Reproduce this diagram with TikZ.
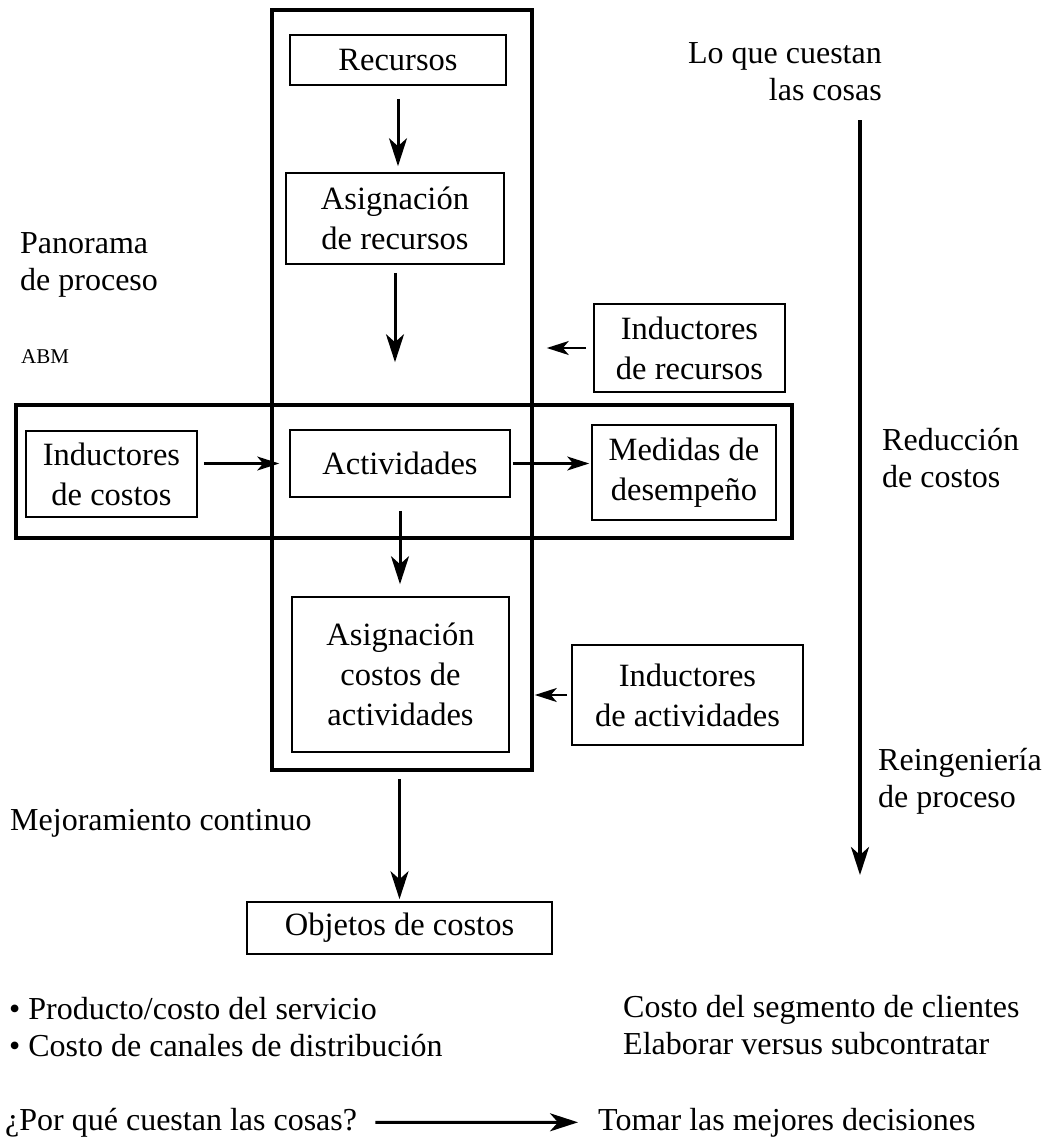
\documentclass[tikz,border=0pt]{standalone}
\usepackage{fontspec}
\setmainfont{Liberation Serif}
\usetikzlibrary{positioning,arrows.meta}

\begin{document}
\begin{tikzpicture}[x=1pt, y=-1pt,
  every node/.style={font=\fontsize{32.5}{40}\selectfont, inner sep=0pt},
  caja/.style={draw, line width=1.6pt, align=center},
  marco/.style={draw, line width=3.6pt},
  texto/.style={font=\fontsize{32}{37}\selectfont},
  flecha/.style={line width=3pt, -{Stealth[length=28pt,width=18pt,inset=8pt]}},
  flechita/.style={line width=2.2pt, -{Stealth[length=22pt,width=14pt,inset=6pt]}}]
  \useasboundingbox (0,0) rectangle (1042,1146);

  % marcos grandes
  \node[marco, minimum width=260, minimum height=760] (flujo) at (402,390) {};
  \node[marco, minimum width=776, minimum height=133] (cruce) at (404,471.5) {};

  % cajas
  \node[caja, minimum width=216, minimum height=50] (rec) at (398,60) {Recursos};
  \node[caja, minimum width=218, minimum height=91] (asigrec) at (395,218.5) {Asignación\\de recursos};
  \node[caja, minimum width=191, minimum height=88] (indrec) at (689.5,348) {Inductores\\de recursos};
  \node[caja, minimum width=171, minimum height=86] (indcos) at (111.5,474) {Inductores\\de costos};
  \node[caja, minimum width=220, minimum height=67] (act) at (400,463.5) {Actividades};
  \node[caja, minimum width=184, minimum height=95] (med) at (684,472.5) {Medidas de\\desempeño};
  \node[caja, minimum width=217, minimum height=155] (asigact) at (400.5,674.5) {Asignación\\costos de\\actividades};
  \node[caja, minimum width=231, minimum height=100] (indact) at (687.5,695) {Inductores\\de actividades};
  \node[caja, minimum width=305, minimum height=52] (obj) at (399.5,928) {Objetos de costos};

  % textos sueltos
  \node[texto, align=right, anchor=north east] (cuestan) at (882,42) {Lo que cuestan\\las cosas};
  \node[texto, align=left, anchor=north west] (panorama) at (20,232) {Panorama\\de proceso};
  \node[font=\fontsize{21}{24}\selectfont, anchor=base west] (abm) at (21,363) {ABM};
  \node[texto, align=left, anchor=north west] (reduccion) at (882,428) {Reducción\\de costos};
  \node[texto, align=left, anchor=north west] (reing) at (878,748) {Reingeniería\\de proceso};
  \node[texto, anchor=base west] (mejora) at (10,830) {Mejoramiento continuo};
  \node[texto, align=left, anchor=north west] (lista) at (9,997) {• Producto/costo del servicio\\• Costo de canales de distribución};
  \node[texto, align=left, anchor=north west] (segm) at (623,995) {Costo del segmento de clientes\\Elaborar versus subcontratar};
  \node[texto, anchor=base west] (porque) at (5,1130) {¿Por qué cuestan las cosas?};
  \node[texto, anchor=base west] (tomar) at (598,1130) {Tomar las mejores decisiones};

  \coordinate (ini) at (860,120);
  \coordinate (fin) at (860,875);

  % flechas
  \draw[flecha, shorten <=13pt, shorten >=6pt] (rec.south) -- (rec.south |- asigrec.north);
  \draw[flecha, shorten <=8pt, shorten >=67pt] (asigrec.south) -- (asigrec.south |- act.north);
  \draw[flecha, shorten <=13pt, shorten >=12pt] (act.south) -- (act.south |- asigact.north);
  \draw[flecha, shorten <=7pt, shorten >=2pt] (flujo.south -| obj.north) -- (obj.north);
  \draw[flechita, shorten <=6pt, shorten >=10pt] (act.west -| indcos.east) -- (act.west);
  \draw[flechita, shorten <=2pt, shorten >=2pt] (act.east) -- (act.east -| med.west);
  \draw[flechita, shorten <=7pt, shorten >=13pt] (indrec.west) -- (indrec.west -| flujo.east);
  \draw[flechita, shorten <=4pt, shorten >=1pt] (indact.west) -- (indact.west -| flujo.east);
  \draw[flecha, line width=3.6pt] (ini) -- (fin);
  \draw[flecha, line width=3pt, shorten <=18pt, shorten >=20pt] (porque.east) -- (tomar.west);
\end{tikzpicture}
\end{document}
